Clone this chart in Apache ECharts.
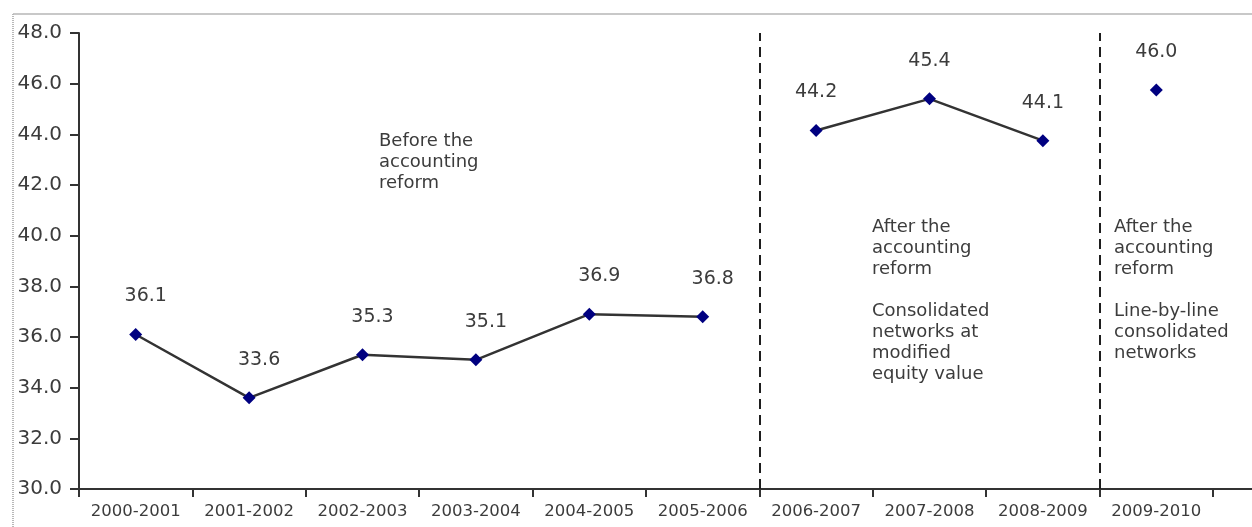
<!DOCTYPE html>
<html>
<head>
<meta charset="utf-8">
<script src="https://cdn.jsdelivr.net/npm/echarts@6/dist/echarts.min.js"></script>
<style>
html,body{margin:0;padding:0;background:#fff;}
#chart{width:1252px;height:527px;}
</style>
</head>
<body>
<div id="chart"></div>
<script>
// ---- data ----
const categories = ['2000-2001','2001-2002','2002-2003','2003-2004','2004-2005','2005-2006','2006-2007','2007-2008','2008-2009','2009-2010'];
// plotted positions
const values = [36.1, 33.6, 35.3, 35.1, 36.9, 36.8, 44.15, 45.4, 43.75, 45.75];
// printed data labels
const valueLabels = ['36.1','33.6','35.3','35.1','36.9','36.8','44.2','45.4','44.1','46.0'];
// segments of connected points [start, end)
const segments = [[0, 6], [6, 9], [9, 10]];
// period boundaries (in category units)
const boundaries = [6, 9];
const yTicks = {min: 30, max: 48, interval: 2};
const notes = [
  'Before the\naccounting\nreform',
  'After the\naccounting\nreform\n\nConsolidated\nnetworks at\nmodified\nequity value',
  'After the\naccounting\nreform\n\nLine-by-line\nconsolidated\nnetworks'
];

const FONT = 'DejaVu Sans';
const TXT = '#3c3c3c';
const labelOffsets = [[10, 0], [0, 0], [0, 0]];

const series = segments.map((seg, si) => ({
  type: 'line',
  xAxisIndex: 0,
  yAxisIndex: 0,
  data: values.map((v, i) => (i >= seg[0] && i < seg[1]) ? v : null),
  connectNulls: false,
  symbol: 'diamond',
  symbolSize: 13,
  itemStyle: {color: '#000080'},
  lineStyle: {color: '#333333', width: 2.5},
  z: 3,
  label: {
    show: true,
    position: 'top',
    distance: 22,
    offset: labelOffsets[si],
    fontFamily: FONT,
    fontSize: 19,
    color: TXT,
    formatter: p => valueLabels[p.dataIndex]
  },
  emphasis: {disabled: true},
  animation: false
}));

series.push({
  type: 'line',
  xAxisIndex: 1,
  yAxisIndex: 0,
  data: [],
  silent: true,
  animation: false,
  markLine: {
    silent: true,
    symbol: 'none',
    animation: false,
    label: {show: false},
    lineStyle: {color: '#1e1e1e', width: 2, type: [10, 6]},
    data: boundaries.map(b => ({xAxis: b}))
  }
});

const chart = echarts.init(document.getElementById('chart'), null, {renderer: 'canvas'});
chart.setOption({
  backgroundColor: '#ffffff',
  animation: false,
  grid: {left: 79, right: 39, top: 33, bottom: 38},
  xAxis: [{
    type: 'category',
    data: categories,
    boundaryGap: true,
    axisLine: {show: true, lineStyle: {color: '#333333', width: 2}},
    axisTick: {show: true, inside: false, length: 8, alignWithLabel: false, lineStyle: {color: '#333333', width: 2}},
    axisLabel: {fontFamily: FONT, fontSize: 16.5, color: TXT, margin: 14, interval: 0},
    splitLine: {show: false}
  }, {
    type: 'value',
    min: 0,
    max: categories.length,
    show: false
  }],
  yAxis: {
    type: 'value',
    min: yTicks.min,
    max: yTicks.max,
    interval: yTicks.interval,
    axisLine: {show: true, lineStyle: {color: '#333333', width: 2}},
    axisTick: {show: true, inside: false, length: 9, lineStyle: {color: '#333333', width: 2}},
    axisLabel: {fontFamily: FONT, fontSize: 20, color: TXT, margin: 17, formatter: v => v.toFixed(1)},
    splitLine: {show: false}
  },
  graphic: [
    {type: 'line', shape: {x1: 13, y1: 14, x2: 1252, y2: 14}, style: {stroke: '#c8c8c8', lineWidth: 2}, silent: true},
    {type: 'line', shape: {x1: 13, y1: 14, x2: 13, y2: 527}, style: {stroke: '#b8b8b8', lineWidth: 2, lineDash: [1, 1]}, silent: true},
    {type: 'line', shape: {x1: 1213, y1: 489, x2: 1252, y2: 489}, style: {stroke: '#333333', lineWidth: 2}, silent: true},
    {type: 'text', left: 379, top: 131, style: {text: notes[0], font: '18px "DejaVu Sans"', fill: TXT, lineHeight: 21}, silent: true},
    {type: 'text', left: 872, top: 217, style: {text: notes[1], font: '18px "DejaVu Sans"', fill: TXT, lineHeight: 21}, silent: true},
    {type: 'text', left: 1114, top: 217, style: {text: notes[2], font: '18px "DejaVu Sans"', fill: TXT, lineHeight: 21}, silent: true}
  ],
  series: series
});
</script>
</body>
</html>
